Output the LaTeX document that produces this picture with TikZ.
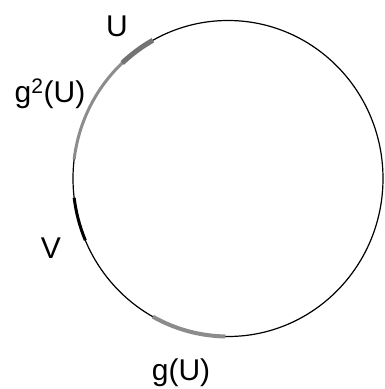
\documentclass[tikz,border=0pt]{standalone}
\usepackage{fontspec}
\setmainfont{Liberation Sans}
\usetikzlibrary{calc}

\begin{document}
\begin{tikzpicture}[x=1pt, y=1pt,
    lbl/.style={anchor=base, inner sep=0pt, font=\fontsize{30}{30}\selectfont},
    useg/.style={line width=5pt, draw=black!55},
    gseg/.style={line width=3pt, draw=black!45},
    vseg/.style={line width=3pt, draw=black}]
  \useasboundingbox (0,0) rectangle (384,389);
  \coordinate (c) at (228,210.5);
  % the circle
  \draw[line width=1.2pt] (c) ellipse [x radius=155, y radius=158];
  % g^2(U)
  \draw[gseg] (c) ++(133:155 and 158) arc[start angle=133, end angle=173, x radius=155, y radius=158];
  % U
  \draw[useg] (c) ++(119:155 and 158) arc[start angle=119, end angle=133, x radius=155, y radius=158];
  % V
  \draw[vseg] (c) ++(187:155 and 158) arc[start angle=187, end angle=203, x radius=155, y radius=158];
  % g(U)
  \draw[gseg, line width=4pt] (c) ++(241:155 and 158) arc[start angle=241, end angle=269, x radius=155, y radius=158];
  % labels
  \node[lbl] (u) at (117,352) {U};
  \node[lbl] (g2u) at (50,286) {g\textsuperscript{2}(U)};
  \node[lbl] (v) at (51,130) {V};
  \node[lbl] (gu) at (181,9) {g(U)};
\end{tikzpicture}
\end{document}
